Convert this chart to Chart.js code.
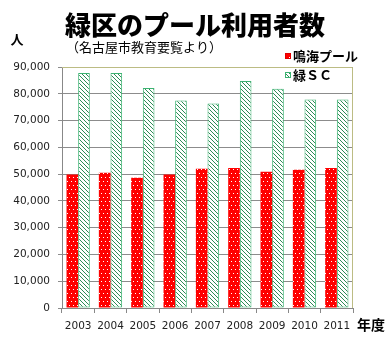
<!DOCTYPE html>
<html>
<head>
<meta charset="utf-8">
<script src="https://cdn.jsdelivr.net/npm/chart.js@4.4.0/dist/chart.umd.min.js"></script>
<style>
  html, body { margin: 0; padding: 0; background: #fff; }
  #wrap { width: 388px; height: 340px; position: relative; }
</style>
</head>
<body>
<div id="wrap"><canvas id="chart"></canvas></div>
<script>
// data
const years = ['2003', '2004', '2005', '2006', '2007', '2008', '2009', '2010', '2011'];
const narumiPool = [49900, 50500, 48600, 49900, 52000, 52300, 50900, 51600, 52300];
const midoriSC = [87800, 87800, 82200, 77500, 76400, 84800, 81900, 77900, 77900];
const seriesNames = ['鳴海プール', '緑ＳＣ'];
const yTicks = [0, 10000, 20000, 30000, 40000, 50000, 60000, 70000, 80000, 90000];

const chartTitle = '緑区のプール利用者数';
const chartSubtitle = '（名古屋市教育要覧より）';
const yUnit = '人';
const xUnit = '年度';

const JP = '"Noto Sans CJK JP", "Noto Sans", sans-serif';
const tickFont = { family: '"DejaVu Sans", Verdana, sans-serif', size: 10.5 };

const canvas = document.getElementById('chart');
const ctx = canvas.getContext('2d');

// small tiles for the bar fills
const makePattern = (w, h, draw) => {
    const tile = document.createElement('canvas');
    tile.width = w;
    tile.height = h;
    draw(tile.getContext('2d'));
    return ctx.createPattern(tile, 'repeat');
};

const redDots = makePattern(4, 8, g => {
    g.fillStyle = '#ff0000';
    g.fillRect(0, 0, 4, 8);
    g.fillStyle = '#ffffff';
    g.fillRect(1, 1, 1, 1);
    g.fillRect(3, 5, 1, 1);
});

const greenHatch = makePattern(4, 4, g => {
    g.fillStyle = '#ffffff';
    g.fillRect(0, 0, 4, 4);
    g.fillStyle = '#2e8b57';
    for (let i = 0; i < 4; i++) g.fillRect(i, i, 1, 1);
});

// titles, unit labels, legend and the olive plot frame
const extras = {
    id: 'extras',
    afterDraw(chart) {
        const c = chart.ctx;
        const a = chart.chartArea;
        c.save();

        c.strokeStyle = '#bcbc84';
        c.lineWidth = 1;
        c.beginPath();
        c.moveTo(a.left, a.top + 0.5);
        c.lineTo(a.right - 0.5, a.top + 0.5);
        c.lineTo(a.right - 0.5, a.bottom);
        c.stroke();

        c.fillStyle = '#000';
        c.textBaseline = 'middle';

        c.textAlign = 'center';
        c.font = `900 26px ${JP}`;
        c.fillText(chartTitle, 195, 25);

        c.textAlign = 'left';
        c.font = `13px ${JP}`;
        c.fillText(chartSubtitle, 66, 47);

        c.textAlign = 'center';
        c.font = `bold 13px ${JP}`;
        c.fillText(yUnit, 17, 39);

        c.textAlign = 'left';
        c.font = `bold 14px ${JP}`;
        c.fillText(xUnit, 357, 325);

        // legend
        const rows = [56, 75];
        chart.data.datasets.forEach((ds, i) => {
            const y = rows[i];
            c.fillStyle = ds.backgroundColor;
            c.fillRect(285, y - 3, 6, 6);
            c.strokeStyle = ds.borderColor;
            c.lineWidth = 1;
            c.strokeRect(285.5, y - 2.5, 5, 5);
            c.fillStyle = '#000';
            c.font = `bold 13px ${JP}`;
            c.fillText(ds.label, 293, y);
        });

        c.restore();
    }
};

new Chart(ctx, {
    type: 'bar',
    data: {
        labels: years,
        datasets: [
            {
                label: seriesNames[0],
                data: narumiPool,
                backgroundColor: redDots,
                borderColor: '#e00000',
                borderWidth: 0,
                categoryPercentage: 0.72,
                barPercentage: 1.0
            },
            {
                label: seriesNames[1],
                data: midoriSC,
                backgroundColor: greenHatch,
                borderColor: '#3cb371',
                borderWidth: 1,
                borderSkipped: false,
                categoryPercentage: 0.72,
                barPercentage: 1.0
            }
        ]
    },
    options: {
        responsive: true,
        maintainAspectRatio: false,
        animation: false,
        layout: { padding: { top: 67, right: 35, bottom: 0, left: 0 } },
        plugins: {
            legend: { display: false },
            title: { display: false },
            tooltip: { enabled: false }
        },
        scales: {
            x: {
                grid: { drawOnChartArea: false, drawTicks: true, tickLength: 5, color: '#888', offset: true },
                border: { color: '#888' },
                ticks: { color: '#222', font: tickFont, padding: 7, maxRotation: 0 },
                afterFit: s => { s.height = 32; }
            },
            y: {
                min: 0,
                max: 90000,
                afterBuildTicks: s => { s.ticks = yTicks.map(v => ({ value: v })); },
                grid: { color: '#8c8c8c', tickLength: 4 },
                border: { color: '#888' },
                ticks: {
                    color: '#222',
                    font: tickFont,
                    padding: 8,
                    callback: v => v.toLocaleString('en-US')
                },
                afterFit: s => { s.width = 62; }
            }
        }
    },
    plugins: [extras]
});
</script>
</body>
</html>
